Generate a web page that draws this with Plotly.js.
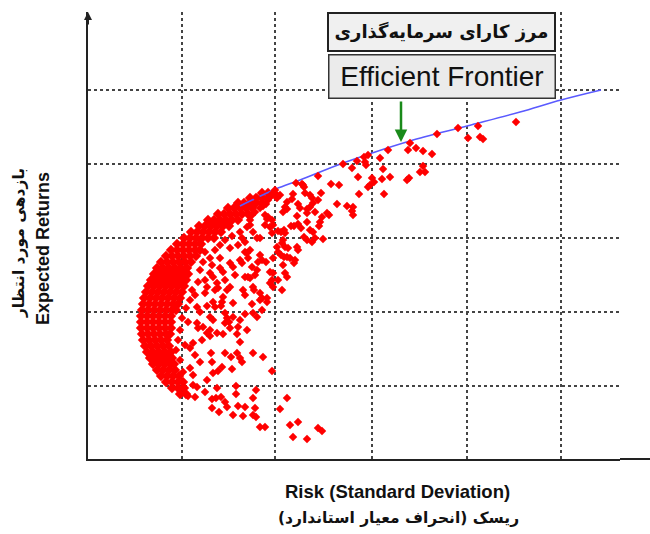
<!DOCTYPE html>
<html>
<head>
<meta charset="utf-8">
<script src="https://cdn.plot.ly/plotly-3.0.1.min.js"></script>
<style>html,body{margin:0;padding:0;background:#fff;}#chart{width:650px;height:534px;}</style>
</head>
<body>
<div id="chart"></div>
<script>
// Units: risk and return measured in chart units from the origin (arbitrary scale, no tick labels in original)
const gridRisk = [94, 187, 284, 379, 473];
const gridReturn = [73, 147, 221, 295, 369];

// Efficient frontier (blue line)
const frontierRisk   = [152, 162, 188, 212, 255, 284, 322, 379, 432, 473, 513];
const frontierReturn = [253, 258, 270, 279, 296, 306, 318, 333, 347, 359, 369];

// Dense cluster of portfolios near the minimum-variance edge
const clusterRisk = [
174,180,186,
162,168,174,180,
150,156,162,168,174,
140,146,152,158,164,
130,136,142,148,154,160,
120,126,132,138,144,150,
111,117,123,129,135,141,
103,109,115,121,127,133,
96,102,108,114,120,126,
89,95,101,107,113,
83,89,95,101,107,112,
78,84,90,96,102,108,
73,79,85,91,97,103,
69,75,81,87,93,99,
66,72,78,84,90,96,100,
63,69,75,81,87,93,98,
60,66,72,78,84,90,96,
58,64,70,76,82,88,94,
56,62,68,74,80,86,92,
55,61,67,73,79,85,90,
54,60,66,72,78,84,88,
53,59,65,71,77,83,
53,59,65,71,77,83,
53,59,65,71,77,83,
54,60,66,72,78,82,
55,61,67,73,79,
57,63,69,75,81,
59,65,71,77,83,
62,68,74,80,84,
65,71,77,83,86,
69,75,81,87,
73,79,85,91,
78,84,90,95,
84,90,96,
92,98];
const clusterReturn = [
266,266,266,
261,261,261,261,
256,256,256,256,256,
251,251,251,251,251,
245,245,245,245,245,245,
239,239,239,239,239,239,
233,233,233,233,233,233,
227,227,227,227,227,227,
221,221,221,221,221,221,
215,215,215,215,215,
209,209,209,209,209,209,
203,203,203,203,203,203,
197,197,197,197,197,197,
191,191,191,191,191,191,
185,185,185,185,185,185,185,
179,179,179,179,179,179,179,
173,173,173,173,173,173,173,
167,167,167,167,167,167,167,
161,161,161,161,161,161,161,
155,155,155,155,155,155,155,
149,149,149,149,149,149,149,
143,143,143,143,143,143,
137,137,137,137,137,137,
131,131,131,131,131,131,
125,125,125,125,125,125,
119,119,119,119,119,
113,113,113,113,113,
107,107,107,107,107,
101,101,101,101,101,
95,95,95,95,95,
89,89,89,89,
83,83,83,83,
77,77,77,77,
71,71,71,
65,65];

// Scattered portfolios
const scatterRisk = [
428,390,370,380,392,395,349,322,320,328,335,344,300,292,280,276,277,269,255,264,
278,295,335,332,337,321,319,302,294,284,286,270,280,296,271,251,243,230,208,215,
216,265,259,249,264,239,241,234,231,222,224,230,225,222,219,210,212,205,204,197,
199,192,189,185,183,187,180,178,175,172,169,167,164,180,184,182,203,210,219,282,
233,217,214,265,227,219,209,195,177,162,232,222,225,213,206,196,193,190,179,177,
184,165,172,216,219,224,227,235,195,194,197,200,209,210,190,193,199,202,207,206,
195,185,178,170,164,157,162,160,162,167,182,185,197,190,184,165,166,172,179,172,
199,185,159,197,154,157,169,142,150,159,160,152,154,172,174,189,196,142,145,132,
135,122,125,157,169,199,142,139,129,130,119,117,155,157,182,185,194,135,134,125,
127,145,174,179,109,112,122,125,137,139,152,165,169,109,110,122,129,142,159,230,
234,219,205,202,210,192,199,184,175,177,172,168,165,167,165,168,157,150,155,145,
139,137,131,124,133,128,148,148,129,119,117,124,109,100,107,125,130,134,144,154,
152,143,124,123,137,149,165,102,105,119,122,135,149,137,141,150,145,157,174,164,
133,119,115,105,102,114,152,112,117,115,112,110,104,102,98,94,92,90,88,92,
95,105,122,127,132,137,144,152,162,107,100,97,107,112,132,124,117,137,147,127];
const scatterReturn = [
337,333,331,321,322,320,325,316,309,311,308,305,309,301,304,302,297,298,295,291,
294,290,293,287,287,281,279,282,280,281,277,282,272,265,265,274,275,283,276,274,
272,252,253,255,248,246,244,242,233,264,261,259,256,252,250,255,251,265,260,252,
250,264,261,266,263,269,259,255,253,251,261,247,244,242,239,232,233,235,246,274,
266,266,275,244,247,237,243,247,244,239,237,229,227,231,233,229,227,228,240,234,
226,227,221,222,219,217,221,220,219,216,212,211,212,209,207,204,202,201,199,196,
194,201,197,197,192,207,209,182,181,184,187,186,186,179,179,172,169,166,161,159,
257,234,232,226,221,217,221,211,214,206,201,199,196,204,199,212,202,196,192,191,
187,186,182,182,189,182,172,169,176,171,172,166,169,164,176,172,169,162,157,157,
152,156,161,157,152,147,142,139,146,141,139,146,142,136,131,129,126,131,129,31,
28,20,22,34,37,50,61,88,102,32,32,42,44,51,61,69,52,53,43,44,
52,57,47,51,62,61,65,73,71,79,67,60,72,63,62,86,88,92,90,97,
101,102,97,106,106,106,106,91,84,126,123,125,125,136,137,132,142,145,149,155,
153,153,132,116,111,119,117,219,207,197,189,177,169,159,151,141,129,119,109,99,
87,74,201,209,214,219,223,227,234,164,137,114,104,97,201,194,179,179,184,169];

// Pointer to the frontier
const pointerRisk = 313, pointerReturn = 317;

const traces = [
  {x: clusterRisk, y: clusterReturn, type: 'scatter', mode: 'markers',
   marker: {color: '#ff0000', size: 8, symbol: 'diamond', line: {width: 0}}},
  {x: frontierRisk, y: frontierReturn, type: 'scatter', mode: 'lines',
   line: {color: '#5a5aff', width: 1.6, shape: 'spline'}, hoverinfo: 'skip'},
  {x: scatterRisk, y: scatterReturn, type: 'scatter', mode: 'markers',
   marker: {color: '#ff0000', size: 6.5, symbol: 'diamond', line: {width: 0}}}
];

const axisCommon = {
  showticklabels: false, ticks: '', zeroline: false,
  showgrid: true, gridcolor: '#444', gridwidth: 1.3, griddash: 'dot',
  showline: true, linecolor: '#222', linewidth: 2, fixedrange: true
};

const layout = {
  width: 650, height: 534,
  margin: {l: 88, r: 30, t: 12, b: 75},
  paper_bgcolor: '#ffffff', plot_bgcolor: '#ffffff',
  showlegend: false,
  xaxis: Object.assign({}, axisCommon, {range: [0, 532], tickmode: 'array', tickvals: gridRisk}),
  yaxis: Object.assign({}, axisCommon, {range: [0, 447], tickmode: 'array', tickvals: gridReturn}),
  shapes: [
    {type: 'line', xref: 'paper', yref: 'paper', x0: 1, x1: 1.0564, y0: 0, y1: 0,
     line: {color: '#222', width: 2}}
  ],
  annotations: [
    {xref: 'paper', yref: 'paper', x: 0, y: 1, ax: 0, ay: 14, text: '', showarrow: true,
     arrowhead: 2, arrowsize: 0.8, arrowwidth: 2, arrowcolor: '#222'},
    {xref: 'x', yref: 'y', x: pointerRisk, y: pointerReturn, ax: 0, ay: -42, text: '', showarrow: true,
     arrowhead: 2, arrowsize: 1, arrowwidth: 2.5, arrowcolor: '#1a8a1a'},
    {xref: 'paper', yref: 'paper', x: 0.6645, y: 0.9553, xanchor: 'center', yanchor: 'middle',
     text: '<b>مرز کارای سرمایه\u200cگذاری</b>', showarrow: false,
     font: {family: 'DejaVu Sans', size: 18, color: '#111'},
     bgcolor: '#f0f0f0', bordercolor: '#222', borderwidth: 2, borderpad: 0, width: 225, height: 36},
    {xref: 'paper', yref: 'paper', x: 0.6645, y: 0.8568, xanchor: 'center', yanchor: 'middle',
     text: 'Efficient Frontier', showarrow: false,
     font: {family: 'Liberation Sans, Arial, sans-serif', size: 28, color: '#111'},
     bgcolor: '#ebebeb', bordercolor: '#333', borderwidth: 1.5, borderpad: 0, width: 225, height: 42},
    {xref: 'paper', yref: 'paper', x: 0.581, y: -0.0738, xanchor: 'center', yanchor: 'middle',
     text: '<b>Risk (Standard Deviation)</b>', showarrow: false,
     font: {family: 'Liberation Sans, Arial, sans-serif', size: 18.5, color: '#111'}},
    {xref: 'paper', yref: 'paper', x: 0.583, y: -0.132, xanchor: 'center', yanchor: 'middle',
     text: '<b>\u200fریسک (انحراف معیار استاندارد)\u200f</b>', showarrow: false,
     font: {family: 'DejaVu Sans', size: 15.5, color: '#111'}},
    {xref: 'paper', yref: 'paper', x: -0.0846, y: 0.472, xanchor: 'center', yanchor: 'middle',
     text: '<b>Expected Returns</b>', showarrow: false, textangle: -90,
     font: {family: 'Liberation Sans, Arial, sans-serif', size: 18, color: '#111'}},
    {xref: 'paper', yref: 'paper', x: -0.1297, y: 0.483, xanchor: 'center', yanchor: 'middle',
     text: '<b>بازدهی مورد انتظار</b>', showarrow: false, textangle: -90,
     font: {family: 'DejaVu Sans', size: 15.5, color: '#111'}}
  ]
};

Plotly.newPlot('chart', traces, layout, {displayModeBar: false, staticPlot: true});
</script>
</body>
</html>
